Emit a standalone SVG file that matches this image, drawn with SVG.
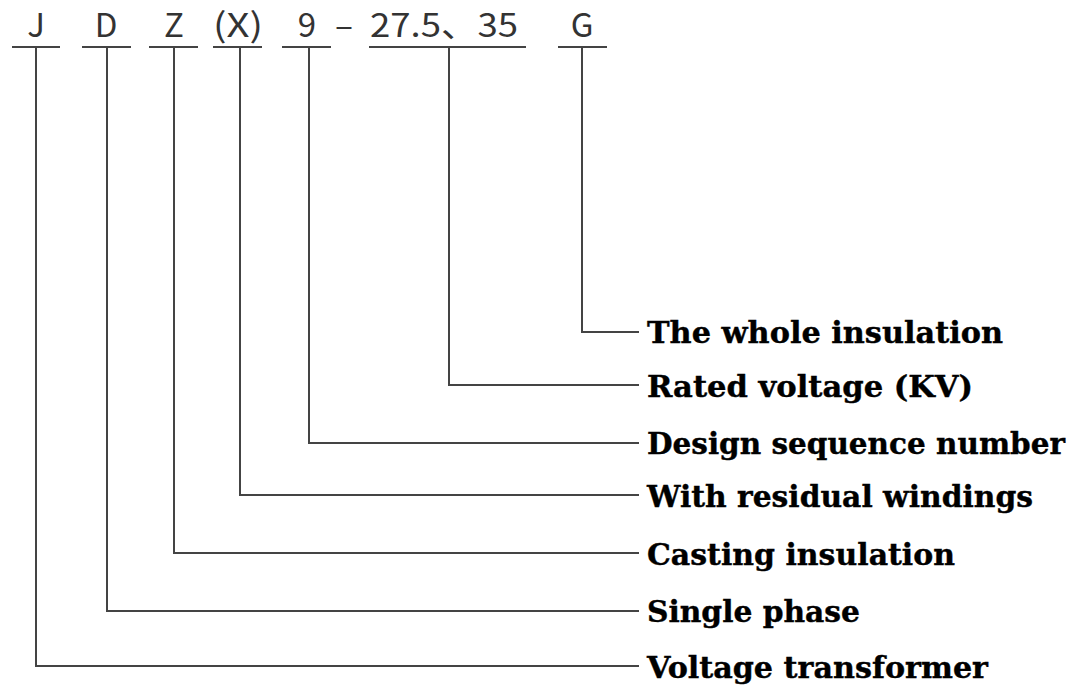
<svg xmlns="http://www.w3.org/2000/svg" width="1080" height="698" viewBox="0 0 1080 698">
<style>
.code{font-family:"Noto Sans CJK SC","Liberation Sans",sans-serif;font-weight:400;font-size:33px;fill:#333;text-anchor:middle}
.lbl{font-family:"DejaVu Serif","Liberation Serif",serif;font-weight:bold;font-size:30px;fill:#000;stroke:#000;stroke-width:0.4}
.ln{stroke:#444;stroke-width:2;fill:none}
</style>
<rect width="1080" height="698" fill="#fff"/>
<g id="code">
<text class="code" x="36" y="37">J</text>
<text class="code" x="106" y="37">D</text>
<text class="code" x="174" y="37">Z</text>
<text class="code" x="238" y="37" textLength="50" lengthAdjust="spacingAndGlyphs">(X)</text>
<text class="code" x="307" y="37">9</text>
<text class="code" x="344" y="37" textLength="18" lengthAdjust="spacingAndGlyphs">–</text>
<text class="code" x="444" y="37" textLength="148" lengthAdjust="spacingAndGlyphs">27.5、35</text>
<text class="code" x="582" y="37">G</text>
<g class="ln">
<line x1="12" y1="47" x2="60" y2="47"/>
<line x1="82" y1="47" x2="131" y2="47"/>
<line x1="149" y1="47" x2="198" y2="47"/>
<line x1="213" y1="47" x2="262" y2="47"/>
<line x1="282" y1="47" x2="331" y2="47"/>
<line x1="369" y1="47" x2="526" y2="47"/>
<line x1="558" y1="47" x2="607" y2="47"/>
</g>
</g>
<g id="connectors" class="ln">
<polyline points="582,47 582,332 639,332"/>
<polyline points="449,47 449,385 639,385"/>
<polyline points="309,47 309,443 639,443"/>
<polyline points="240,47 240,495 639,495"/>
<polyline points="174,47 174,553 639,553"/>
<polyline points="107,47 107,611 639,611"/>
<polyline points="36,47 36,666 639,666"/>
</g>
<g id="n1"><text class="lbl" x="647" y="343" textLength="356" lengthAdjust="spacingAndGlyphs">The whole insulation</text></g>
<g id="n2"><text class="lbl" x="647" y="397" textLength="326" lengthAdjust="spacingAndGlyphs">Rated voltage (KV)</text></g>
<g id="n3"><text class="lbl" x="647" y="454" textLength="418" lengthAdjust="spacingAndGlyphs">Design sequence number</text></g>
<g id="n4"><text class="lbl" x="647" y="507" textLength="386" lengthAdjust="spacingAndGlyphs">With residual windings</text></g>
<g id="n5"><text class="lbl" x="647" y="565" textLength="308" lengthAdjust="spacingAndGlyphs">Casting insulation</text></g>
<g id="n6"><text class="lbl" x="647" y="622" textLength="213" lengthAdjust="spacingAndGlyphs">Single phase</text></g>
<g id="n7"><text class="lbl" x="647" y="678" textLength="341" lengthAdjust="spacingAndGlyphs">Voltage transformer</text></g>
</svg>
